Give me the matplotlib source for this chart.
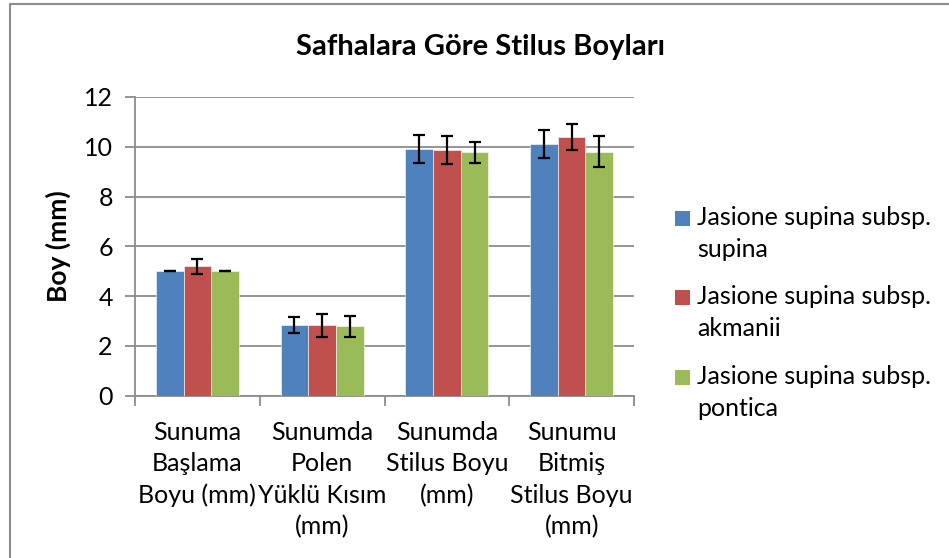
import numpy as np
import matplotlib.pyplot as plt
from matplotlib.lines import Line2D
from matplotlib.patches import Rectangle

plt.rcParams['font.family'] = ['Lato', 'DejaVu Sans']

categories = ['Sunuma\nBaşlama\nBoyu (mm)', 'Sunumda\nPolen\nYüklü Kısım\n(mm)',
              'Sunumda\nStilus Boyu\n(mm)', 'Sunumu\nBitmiş\nStilus Boyu\n(mm)']
series = ['Jasione supina subsp.\nsupina', 'Jasione supina subsp.\nakmanii',
          'Jasione supina subsp.\npontica']
supina = [5.0, 2.82, 9.9, 10.1]
akmanii = [5.2, 2.83, 9.88, 10.38]
pontica = [5.0, 2.78, 9.78, 9.8]
supina_err = [0.0, 0.32, 0.56, 0.57]
akmanii_err = [0.3, 0.46, 0.57, 0.53]
pontica_err = [0.0, 0.43, 0.43, 0.63]
colors = ['#4F81BD', '#C0504D', '#9BBB59']

W, H = 949, 558
fig = plt.figure(figsize=(W / 100, H / 100), dpi=100)
ax = fig.add_axes([135/W, 1 - 395.5/H, (634-135)/W, (395.5-97)/H])

x = np.arange(len(categories))
w = 0.222
vals = [supina, akmanii, pontica]
errs = [supina_err, akmanii_err, pontica_err]
for i in range(3):
    ax.bar(x + (i - 1) * w, vals[i], w, color=colors[i], label=series[i],
           yerr=errs[i], capsize=4.5, zorder=3,
           edgecolor='white', linewidth=0.4,
           error_kw=dict(ecolor='black', elinewidth=1.6, capthick=1.6))

ax.set_xlim(-0.5, 3.5)
ax.set_ylim(0, 12)
ax.set_yticks(range(0, 13, 2))
ax.yaxis.grid(True, color='#8c8c8c', linewidth=1.3, zorder=0)
ax.set_axisbelow(True)
for s in ['top', 'right']:
    ax.spines[s].set_visible(False)
for s in ['left', 'bottom']:
    ax.spines[s].set_color('#8c8c8c')
    ax.spines[s].set_linewidth(1.3)

ax.set_xticks(x)
ax.set_xticklabels(categories, fontsize=18, linespacing=1.45)
ax.tick_params(axis='x', length=0, pad=18)
ax.set_xticks(np.arange(-0.5, 4, 1), minor=True)
ax.tick_params(axis='x', which='minor', length=7, color='#8c8c8c', width=1.3)
ax.tick_params(axis='y', labelsize=18, length=7, color='#8c8c8c', width=1.3, pad=9)

ax.set_ylabel('Boy (mm)', fontsize=19, fontweight='bold', labelpad=9)
fig.text(481/W, 1 - 47/H, 'Safhalara Göre Stilus Boyları', fontsize=21,
         fontweight='bold', ha='center', va='center')

# legend, square beside the first line of each entry
for i in range(3):
    yc = 1 - (218 + 79.5 * i) / H
    fig.add_artist(Rectangle((675/W, yc - 7.5/H), 15/W, 15/H, transform=fig.transFigure,
                             facecolor=colors[i], edgecolor='none'))
    fig.text(697/W, yc + 12/H, series[i], fontsize=18, ha='left', va='top',
             linespacing=1.45)

# chart border
fig.add_artist(Line2D([10/W, 10/W, 1], [0, 1 - 4/H, 1 - 4/H],
                      transform=fig.transFigure, color='#8c8c8c', linewidth=1.5))

fig.savefig('out.png', dpi=100)
